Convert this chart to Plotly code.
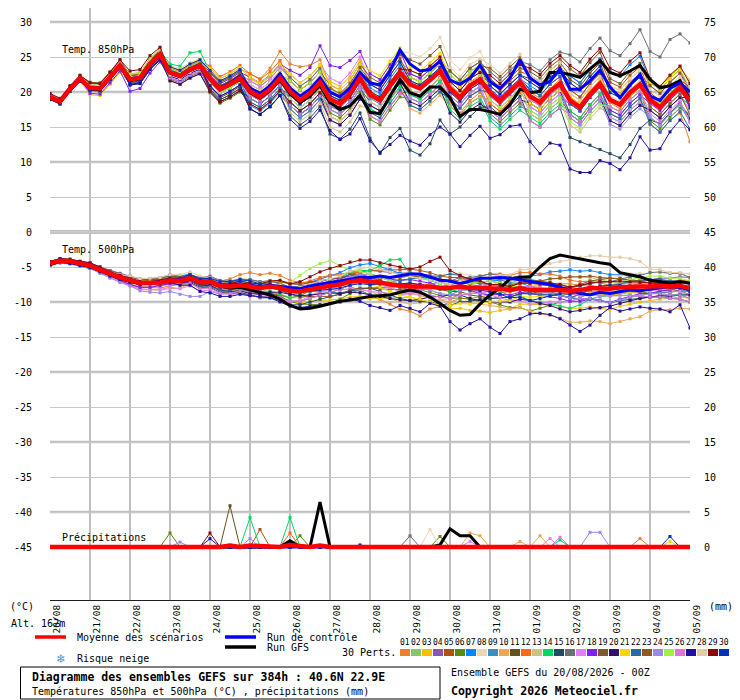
import plotly.graph_objects as go

# time axis: GEFS 00Z run, 6-hourly steps out to 384h
hours = list(range(0, 385, 6))
day_ticks = list(range(0, 385, 24))
date_labels = ["20/08", "21/08", "22/08", "23/08", "24/08", "25/08", "26/08", "27/08", "28/08",
               "29/08", "30/08", "31/08", "01/09", "02/09", "03/09", "04/09", "05/09"]
left_ticks = list(range(-45, 31, 5))
right_ticks = list(range(0, 76, 5))

member_colors = ["#e8822f", "#86c66c", "#f0c000", "#8b56b0", "#b0520c", "#5a8a10", "#0a84ff",
                 "#e8d7b0", "#3a8ec0", "#e8a858", "#64521c", "#f46a20", "#d2c080", "#00d860",
                 "#244a60", "#687078", "#e080f8", "#8020f0", "#7c5a2c", "#30106c", "#f0d800",
                 "#2c68a0", "#905820", "#9c88e8", "#a0f040", "#d878d8", "#20109c", "#e0cca8",
                 "#880808", "#0030c0"]

# ---- temperature 850 hPa (deg C)
t850_mean = [19.3, 18.6, 20.4, 21.9, 20.6, 20.5, 22.1, 23.8, 21.8, 22.0, 24.0, 25.4, 22.8, 22.3, 23.2, 23.8,
             21.9, 20.4, 21.1, 22.0, 20.1, 19.3, 20.4, 22.0, 20.1, 18.8, 19.8, 21.4, 19.0, 18.3, 19.7, 22.0,
             19.6, 18.8, 20.9, 22.8, 21.1, 20.5, 21.7, 23.0, 20.5, 19.2, 20.9, 21.8, 19.9, 18.7, 20.1, 21.4,
             19.4, 18.5, 20.1, 21.2, 18.8, 17.8, 19.7, 21.2, 18.9, 18.2, 19.9, 21.1, 18.9, 17.8, 19.4, 20.7,
             18.7]
t850_control = [19.4, 18.6, 20.5, 22.0, 20.6, 20.6, 22.2, 23.9, 21.9, 22.1, 24.1, 25.5, 22.8, 22.4, 23.3, 23.9,
                22.0, 20.6, 21.3, 22.3, 20.6, 19.8, 20.9, 22.6, 20.6, 19.4, 20.4, 22.0, 20.0, 19.3, 20.6, 22.8,
                21.3, 21.0, 23.0, 26.0, 24.0, 23.0, 23.2, 24.4, 21.7, 21.1, 22.0, 23.8, 21.5, 20.5, 22.0, 24.6,
                22.0, 21.0, 21.5, 23.3, 20.4, 20.4, 21.6, 23.1, 20.7, 19.2, 21.0, 22.5, 19.4, 18.8, 20.5, 21.3,
                20.0]
t850_gfs = [19.2, 18.5, 20.3, 21.8, 20.5, 20.4, 22.0, 23.7, 21.7, 21.9, 23.9, 25.3, 22.7, 22.2, 23.1, 23.7,
            21.8, 20.3, 21.0, 21.8, 19.9, 19.1, 20.2, 21.7, 19.8, 18.5, 19.4, 20.9, 18.5, 17.5, 18.0, 19.5,
            17.1, 16.9, 19.4, 21.8, 19.9, 19.4, 20.7, 20.7, 19.2, 16.5, 17.5, 17.5, 17.2, 16.8, 18.2, 20.4,
            19.9, 20.1, 22.8, 22.8, 22.5, 22.1, 23.3, 24.5, 22.8, 22.3, 23.0, 23.8, 21.8, 20.6, 20.9, 21.6,
            18.9]
t850_members = [
    [19.5, 18.9, 20.5, 22.2, 20.8, 20.9, 22.3, 24.2, 21.5, 21.9, 23.7, 25.3, 23.2, 22.9, 23.8, 24.5, 22.8, 21.5, 22.3, 23.3,
     22.6, 21.9, 23.4, 25.8, 24.0, 23.6, 23.8, 24.6, 20.8, 19.6, 21.0, 23.4, 20.0, 19.2, 21.5, 23.2, 20.2, 19.4, 20.6, 22.1,
     18.6, 17.0, 18.8, 19.9, 18.3, 17.3, 18.7, 20.0, 20.0, 19.1, 20.5, 21.8, 20.4, 19.2, 21.3, 22.6, 18.5, 17.6, 19.3, 20.7,
     15.5, 14.2, 16.0, 17.0, 12.9],
    [19.2, 18.5, 20.5, 21.8, 20.4, 20.3, 21.9, 23.6, 22.1, 22.3, 24.3, 25.7, 22.3, 21.8, 22.7, 23.3, 20.9, 19.4, 20.1, 21.0,
     19.6, 18.8, 19.9, 21.5, 20.6, 19.3, 20.3, 21.9, 20.0, 19.3, 20.7, 23.0, 18.1, 17.3, 19.4, 21.3, 18.1, 17.5, 18.7, 20.0,
     18.0, 16.7, 18.4, 19.3, 18.9, 17.7, 19.1, 20.4, 19.6, 18.3, 20.3, 21.0, 16.8, 15.8, 17.7, 19.2, 15.9, 15.2, 16.9, 18.1,
     17.4, 16.3, 17.9, 19.2, 17.7],
    [19.0, 18.3, 20.1, 21.6, 19.6, 19.5, 21.1, 22.8, 21.3, 21.5, 23.5, 24.9, 23.6, 23.1, 24.0, 24.6, 23.4, 21.9, 22.6, 23.5,
     21.9, 21.1, 22.2, 23.8, 22.1, 20.8, 21.8, 23.4, 21.5, 20.8, 22.2, 24.5, 21.1, 20.3, 22.4, 24.3, 23.1, 22.5, 23.7, 25.0,
     21.0, 19.7, 21.4, 22.3, 20.9, 19.7, 21.1, 22.4, 21.4, 20.5, 22.1, 23.2, 21.3, 20.3, 22.2, 23.7, 20.9, 20.2, 21.9, 23.1,
     21.7, 20.6, 22.2, 23.5, 21.7],
    [19.4, 18.7, 20.5, 22.0, 20.8, 20.7, 22.3, 24.0, 22.3, 22.5, 24.5, 25.9, 22.0, 21.5, 22.4, 23.0, 20.4, 18.9, 19.6, 20.5,
     19.1, 18.3, 19.4, 21.0, 17.6, 16.3, 17.3, 18.9, 16.0, 15.3, 16.7, 19.0, 18.1, 17.3, 19.4, 21.3, 21.6, 21.0, 22.2, 23.5,
     21.5, 20.2, 21.9, 22.8, 19.4, 18.2, 19.6, 20.9, 17.9, 17.0, 18.6, 19.7, 16.3, 15.3, 17.2, 18.7, 17.9, 17.2, 18.9, 20.1,
     18.9, 17.8, 19.4, 20.7, 19.7],
    [19.6, 18.9, 20.7, 22.2, 21.1, 21.0, 22.6, 24.3, 21.8, 22.0, 24.0, 25.4, 21.8, 21.3, 22.2, 22.8, 22.4, 20.9, 21.6, 22.5,
     21.1, 20.3, 21.4, 23.0, 18.6, 17.3, 18.3, 19.9, 16.5, 15.8, 17.2, 19.5, 16.6, 15.8, 17.9, 19.8, 20.1, 19.5, 20.7, 22.0,
     21.0, 19.7, 21.4, 22.3, 21.4, 20.2, 21.6, 22.9, 22.4, 21.5, 23.1, 24.2, 22.3, 21.3, 23.2, 24.7, 21.4, 20.7, 22.4, 23.6,
     19.9, 18.8, 20.4, 21.7, 20.7],
    [19.1, 18.4, 20.2, 21.7, 20.6, 20.5, 22.1, 23.8, 21.3, 21.5, 23.5, 24.9, 21.6, 21.1, 22.0, 22.6, 19.9, 18.4, 19.1, 20.0,
     18.6, 17.8, 18.9, 20.5, 19.1, 17.8, 18.8, 20.4, 17.0, 16.3, 17.7, 20.0, 16.1, 15.3, 17.4, 19.3, 19.1, 18.5, 19.7, 21.0,
     19.0, 17.7, 19.4, 20.3, 16.9, 15.7, 17.1, 18.4, 16.9, 16.0, 17.6, 18.7, 17.3, 16.3, 18.2, 19.7, 16.9, 16.2, 17.9, 19.1,
     15.9, 14.8, 16.4, 17.7, 16.7],
    [19.5, 18.8, 20.6, 22.1, 20.3, 20.2, 21.8, 23.5, 21.0, 21.2, 23.2, 24.6, 22.8, 22.3, 23.2, 23.8, 20.9, 19.4, 20.1, 21.0,
     18.1, 17.3, 18.4, 20.0, 18.6, 17.3, 18.3, 19.9, 19.5, 18.8, 20.2, 22.5, 20.6, 19.8, 21.9, 23.8, 21.1, 20.5, 21.7, 23.0,
     19.5, 18.2, 19.9, 20.8, 20.4, 19.2, 20.6, 21.9, 20.9, 20.0, 21.6, 22.7, 22.3, 21.3, 23.2, 24.7, 22.9, 22.2, 23.9, 25.1,
     21.4, 20.3, 21.9, 23.2, 20.2],
    [19.4, 18.7, 20.3, 21.9, 20.8, 20.7, 22.3, 24.0, 22.4, 22.6, 24.6, 26.0, 23.8, 23.3, 24.2, 24.8, 23.4, 21.9, 22.6, 23.5,
     22.1, 21.3, 22.4, 24.0, 21.1, 19.8, 20.8, 22.4, 20.5, 19.8, 21.2, 23.5, 22.6, 21.8, 23.9, 25.8, 25.6, 25.0, 26.2, 27.8,
     24.5, 23.2, 24.9, 25.8, 22.9, 21.7, 23.1, 24.4, 21.4, 20.5, 22.1, 23.2, 19.8, 18.8, 20.7, 22.2, 20.9, 20.2, 21.9, 23.1,
     21.9, 20.8, 22.4, 23.7, 21.2],
    [19.2, 18.5, 20.3, 21.8, 20.2, 20.1, 21.7, 23.4, 21.6, 21.8, 23.8, 25.2, 23.2, 22.7, 23.6, 24.2, 21.4, 19.9, 20.6, 21.5,
     18.3, 17.5, 18.6, 20.2, 17.6, 16.3, 17.3, 18.9, 18.0, 17.3, 18.7, 21.0, 19.1, 18.3, 20.4, 22.3, 19.6, 19.0, 20.2, 21.5,
     18.0, 16.7, 18.4, 19.3, 16.4, 15.2, 16.6, 17.9, 17.4, 16.5, 18.1, 19.2, 18.3, 17.3, 19.2, 20.7, 17.4, 16.7, 18.4, 19.6,
     16.4, 15.3, 16.9, 18.2, 15.7],
    [19.7, 19.0, 20.8, 22.3, 21.0, 20.9, 22.5, 24.2, 22.6, 22.8, 24.8, 26.2, 22.6, 22.1, 23.0, 23.6, 22.7, 21.2, 21.9, 22.8,
     19.6, 18.8, 19.9, 21.5, 19.1, 17.8, 18.8, 20.4, 16.5, 15.8, 17.2, 19.5, 17.6, 16.8, 18.9, 20.8, 17.6, 17.0, 18.2, 19.5,
     18.0, 16.7, 18.4, 19.3, 18.9, 17.7, 19.1, 20.4, 18.9, 18.0, 19.6, 20.7, 19.8, 18.8, 20.7, 22.2, 18.9, 18.2, 19.9, 21.1,
     17.9, 16.8, 18.4, 19.7, 17.2],
    [19.5, 18.8, 20.6, 22.1, 21.2, 21.1, 22.7, 24.4, 22.0, 22.2, 24.2, 25.6, 22.3, 21.8, 22.7, 23.3, 20.7, 19.2, 19.9, 20.8,
     17.6, 16.8, 17.9, 19.5, 18.1, 16.8, 17.8, 19.4, 17.5, 16.8, 18.2, 20.5, 18.6, 17.8, 19.9, 21.8, 21.6, 21.0, 22.2, 23.5,
     22.0, 20.7, 22.4, 23.3, 20.9, 19.7, 21.1, 22.4, 21.9, 21.0, 22.6, 23.7, 21.8, 20.8, 22.7, 24.2, 20.4, 19.7, 21.4, 22.6,
     19.4, 18.3, 19.9, 21.2, 18.7],
    [19.0, 18.3, 20.1, 21.6, 20.6, 20.5, 22.1, 23.8, 22.2, 22.4, 24.4, 25.8, 23.4, 22.9, 23.8, 24.4, 23.7, 22.2, 22.9, 23.8,
     22.6, 21.8, 22.9, 24.5, 21.6, 20.3, 21.3, 22.9, 19.5, 18.8, 20.2, 22.5, 21.1, 20.3, 22.4, 24.3, 22.1, 21.5, 22.7, 24.0,
     20.0, 18.7, 20.4, 21.3, 18.4, 17.2, 18.6, 19.9, 18.4, 17.5, 19.1, 20.2, 19.3, 18.3, 20.2, 21.7, 20.4, 19.7, 21.4, 22.6,
     20.9, 19.8, 21.4, 22.7, 19.7],
    [19.4, 18.7, 20.5, 22.0, 20.1, 20.0, 21.6, 23.3, 21.8, 22.0, 24.0, 25.4, 23.1, 22.6, 23.5, 24.1, 21.9, 20.4, 21.1, 22.0,
     19.1, 18.3, 19.4, 21.0, 17.1, 15.8, 16.8, 18.4, 15.0, 14.3, 15.7, 18.0, 17.6, 16.8, 18.9, 20.8, 20.1, 19.5, 20.7, 22.0,
     21.0, 19.7, 21.4, 22.3, 18.9, 17.7, 19.1, 20.4, 16.9, 16.0, 17.6, 18.7, 15.3, 14.3, 16.2, 17.7, 16.9, 16.2, 17.9, 19.1,
     17.9, 16.8, 18.4, 19.7, 17.2],
    [19.3, 18.7, 20.5, 22.0, 21.1, 21.0, 22.6, 24.3, 22.3, 22.5, 24.5, 25.9, 24.0, 23.7, 25.6, 25.8, 22.9, 21.4, 22.1, 23.0,
     20.1, 19.3, 20.4, 22.0, 19.1, 17.8, 18.8, 20.4, 17.5, 16.8, 18.2, 20.5, 17.6, 16.8, 18.9, 20.8, 19.6, 19.0, 20.2, 21.5,
     17.5, 16.2, 17.9, 18.8, 15.9, 14.7, 16.1, 17.4, 16.4, 15.5, 17.1, 18.2, 17.3, 16.3, 18.2, 19.7, 16.4, 15.7, 17.4, 18.6,
     17.4, 16.3, 17.9, 19.2, 18.2],
    [19.1, 18.4, 20.2, 21.7, 20.6, 20.5, 22.1, 23.8, 21.4, 21.6, 23.6, 25.0, 22.5, 22.0, 22.9, 23.5, 20.4, 18.9, 19.6, 20.5,
     17.6, 16.8, 17.9, 19.5, 16.6, 15.3, 16.3, 17.9, 14.0, 13.3, 14.7, 17.0, 13.4, 11.2, 13.5, 14.8, 11.7, 11.0, 12.6, 16.0,
     14.0, 15.0, 16.5, 17.8, 17.9, 16.7, 18.1, 19.4, 15.9, 15.0, 16.6, 17.7, 13.5, 12.9, 12.4, 11.8, 11.2, 10.6, 12.5, 14.8,
     16.0, 15.5, 17.0, 18.5, 16.2],
    [19.6, 18.9, 20.7, 22.2, 20.8, 20.7, 22.3, 24.0, 21.8, 22.0, 24.0, 25.4, 23.3, 22.8, 23.7, 24.3, 22.4, 20.9, 21.6, 22.5,
     21.6, 20.8, 21.9, 23.5, 22.1, 20.8, 21.8, 23.4, 20.0, 19.3, 20.7, 23.0, 19.6, 18.8, 20.9, 22.8, 22.6, 22.0, 23.2, 24.5,
     23.0, 21.7, 23.4, 24.3, 22.9, 21.7, 23.1, 24.4, 23.9, 23.0, 24.6, 25.7, 25.3, 24.3, 26.2, 27.7, 25.9, 25.2, 26.9, 28.9,
     25.8, 25.0, 27.5, 28.3, 27.0],
    [19.2, 18.5, 20.3, 21.8, 20.8, 20.7, 22.3, 24.0, 22.0, 22.2, 24.2, 25.6, 22.8, 22.3, 23.2, 23.8, 22.4, 20.9, 21.6, 22.5,
     21.6, 20.8, 21.9, 23.5, 22.6, 21.3, 22.3, 23.9, 22.0, 21.3, 22.7, 25.0, 21.1, 20.3, 22.4, 24.3, 21.1, 20.5, 21.7, 23.0,
     19.0, 17.7, 19.4, 20.3, 17.4, 16.2, 17.6, 18.9, 17.9, 17.0, 18.6, 19.7, 18.3, 17.3, 19.2, 20.7, 16.4, 15.7, 17.4, 18.6,
     17.4, 16.3, 17.9, 19.2, 17.7],
    [19.3, 18.6, 20.4, 21.9, 19.8, 19.7, 21.3, 23.0, 20.1, 20.5, 22.7, 24.3, 22.3, 21.8, 22.7, 23.3, 22.7, 21.2, 21.9, 22.8,
     22.1, 21.3, 22.4, 24.0, 23.1, 22.4, 23.5, 26.6, 23.8, 23.5, 24.5, 25.8, 22.6, 21.8, 23.9, 25.8, 22.6, 22.0, 23.2, 24.5,
     20.5, 19.2, 20.9, 21.8, 20.4, 19.2, 20.6, 21.9, 20.4, 19.5, 21.1, 22.2, 18.3, 17.3, 19.2, 20.7, 17.4, 16.7, 18.4, 19.6,
     18.4, 17.3, 18.9, 20.2, 18.2],
    [19.7, 19.0, 20.8, 22.3, 21.4, 21.3, 22.9, 24.6, 22.4, 22.6, 24.6, 26.0, 23.1, 22.6, 23.5, 24.1, 22.9, 21.4, 22.1, 23.0,
     20.6, 19.8, 20.9, 22.5, 21.6, 20.3, 21.3, 22.9, 21.0, 20.3, 21.7, 24.0, 22.1, 21.3, 23.4, 25.3, 24.6, 24.0, 25.2, 26.5,
     23.0, 21.7, 23.4, 24.3, 21.9, 20.7, 22.1, 23.4, 22.9, 22.0, 23.6, 24.7, 23.3, 22.3, 24.2, 25.7, 21.9, 21.2, 22.9, 24.1,
     20.9, 19.8, 21.4, 22.7, 20.2],
    [19.0, 18.3, 20.1, 21.6, 20.3, 20.2, 21.8, 23.5, 21.0, 21.2, 23.2, 24.6, 21.6, 21.1, 22.0, 22.6, 20.1, 18.6, 19.3, 20.2,
     19.1, 18.3, 19.4, 21.0, 18.1, 16.8, 17.8, 19.4, 16.0, 15.3, 16.7, 19.0, 18.1, 17.3, 19.4, 21.3, 18.6, 18.0, 19.2, 20.5,
     17.0, 15.7, 17.4, 18.3, 17.4, 16.2, 17.6, 18.9, 18.4, 17.5, 19.1, 20.2, 16.8, 15.8, 17.7, 19.2, 15.9, 15.2, 16.9, 18.1,
     17.4, 16.3, 17.9, 19.2, 19.2],
    [19.5, 18.8, 20.6, 22.1, 20.6, 20.5, 22.1, 23.8, 22.1, 22.3, 24.3, 25.7, 23.6, 23.1, 24.0, 24.6, 23.4, 21.9, 22.6, 23.5,
     22.1, 21.3, 22.4, 24.0, 22.6, 21.3, 22.3, 23.9, 21.0, 20.3, 21.7, 24.0, 23.1, 22.3, 24.4, 26.3, 23.6, 23.0, 24.2, 25.5,
     22.0, 20.7, 22.4, 23.3, 19.9, 18.7, 20.1, 21.4, 18.4, 17.5, 19.1, 20.2, 19.3, 18.3, 20.2, 21.7, 20.4, 19.7, 21.4, 22.6,
     21.4, 20.3, 21.9, 23.2, 20.7],
    [19.1, 18.4, 20.2, 21.7, 20.2, 20.1, 21.7, 23.4, 21.2, 21.4, 23.4, 24.8, 23.1, 22.6, 23.5, 24.1, 21.4, 19.9, 20.6, 21.5,
     18.6, 17.8, 18.9, 20.5, 19.6, 18.3, 19.3, 20.9, 18.0, 17.3, 18.7, 21.0, 17.1, 16.3, 18.4, 20.3, 18.1, 17.5, 18.7, 20.0,
     19.0, 17.7, 19.4, 20.3, 19.9, 18.7, 20.1, 21.4, 20.4, 19.5, 21.1, 22.2, 18.3, 17.3, 19.2, 20.7, 16.9, 16.2, 17.9, 19.1,
     15.4, 14.3, 15.9, 17.2, 14.7],
    [19.4, 18.7, 20.5, 22.0, 20.9, 20.8, 22.4, 24.1, 22.3, 22.5, 24.5, 25.9, 22.8, 22.3, 23.2, 23.8, 22.4, 20.9, 21.6, 22.5,
     19.6, 18.8, 19.9, 21.5, 20.1, 18.8, 19.8, 21.4, 20.5, 19.8, 21.2, 23.5, 21.6, 20.8, 22.9, 24.8, 22.1, 21.5, 22.7, 24.0,
     22.5, 21.2, 22.9, 23.8, 23.4, 22.2, 23.6, 24.9, 21.9, 21.0, 22.6, 23.7, 20.3, 19.3, 21.2, 22.7, 18.9, 18.2, 19.9, 21.1,
     17.9, 16.8, 18.4, 19.7, 16.7],
    [19.3, 18.5, 20.3, 21.8, 20.4, 20.3, 21.9, 23.6, 21.5, 21.7, 23.7, 25.1, 22.0, 21.5, 22.4, 23.0, 21.4, 19.9, 20.6, 21.5,
     19.1, 18.3, 19.4, 21.0, 18.1, 16.8, 17.8, 19.4, 18.0, 17.3, 18.7, 21.0, 19.6, 18.8, 20.9, 22.8, 19.1, 18.5, 19.7, 21.0,
     19.5, 18.2, 19.9, 20.8, 20.9, 19.7, 21.1, 22.4, 18.9, 18.0, 19.6, 20.7, 16.3, 15.3, 17.2, 18.7, 15.4, 14.7, 16.4, 17.6,
     16.4, 15.3, 16.9, 18.2, 16.7],
    [19.5, 18.8, 20.6, 22.1, 21.0, 20.9, 22.5, 24.2, 22.5, 22.7, 24.7, 26.1, 23.3, 22.8, 23.7, 24.3, 21.4, 19.9, 20.6, 21.5,
     20.6, 19.8, 20.9, 22.5, 21.6, 20.3, 21.3, 22.9, 20.0, 19.3, 20.7, 23.0, 19.6, 18.8, 20.9, 22.8, 22.1, 21.5, 22.7, 24.0,
     22.5, 21.2, 22.9, 23.8, 18.9, 17.7, 19.1, 20.4, 17.4, 16.5, 18.1, 19.2, 15.8, 14.8, 16.7, 18.2, 17.9, 17.2, 18.9, 20.1,
     19.4, 18.3, 19.9, 21.2, 20.2],
    [19.1, 18.4, 20.2, 21.7, 20.5, 20.4, 22.0, 23.7, 21.8, 22.0, 24.0, 25.4, 22.1, 21.6, 22.5, 23.1, 20.9, 19.4, 20.1, 21.0,
     19.6, 18.8, 19.9, 21.5, 20.6, 19.3, 20.3, 21.9, 17.5, 16.8, 18.2, 20.5, 16.6, 15.8, 17.9, 19.8, 19.1, 18.5, 19.7, 21.0,
     19.5, 18.2, 19.9, 20.8, 17.4, 16.2, 17.6, 18.9, 15.9, 15.0, 16.6, 17.7, 16.8, 15.8, 17.7, 19.2, 17.9, 17.2, 18.9, 20.1,
     16.9, 15.8, 17.4, 18.7, 15.7],
    [19.3, 18.6, 20.4, 21.9, 20.3, 20.2, 21.8, 23.5, 21.1, 21.3, 23.3, 24.7, 22.3, 21.8, 22.7, 23.3, 20.9, 19.4, 20.1, 21.0,
     17.6, 16.8, 17.9, 19.5, 16.1, 14.8, 15.8, 17.4, 14.5, 13.2, 14.0, 16.2, 13.0, 11.4, 12.5, 13.8, 13.0, 12.4, 13.9, 15.0,
     14.0, 12.2, 13.8, 15.1, 13.4, 13.9, 15.1, 15.3, 12.9, 11.2, 12.7, 12.4, 9.0, 8.5, 8.5, 10.2, 9.8, 8.9, 10.6, 13.6,
     11.7, 11.9, 14.3, 16.0, 14.6],
    [19.6, 18.9, 20.7, 22.2, 21.1, 21.0, 22.6, 24.3, 22.1, 22.3, 24.3, 25.7, 22.4, 21.9, 22.8, 23.4, 21.9, 20.4, 21.1, 22.0,
     21.1, 20.3, 21.4, 23.0, 19.1, 17.8, 18.8, 20.4, 16.5, 15.8, 17.2, 19.5, 18.6, 17.8, 19.9, 21.8, 21.6, 21.0, 22.2, 23.5,
     23.5, 22.2, 23.9, 24.8, 23.9, 22.7, 24.1, 25.4, 22.4, 21.5, 23.1, 24.2, 19.8, 18.8, 20.7, 22.2, 19.4, 18.7, 20.4, 21.6,
     20.4, 19.3, 20.9, 22.2, 20.7],
    [19.8, 19.1, 20.9, 22.4, 21.3, 21.2, 22.8, 24.6, 23.0, 23.2, 25.2, 26.4, 23.0, 22.5, 23.4, 24.0, 20.1, 18.6, 19.3, 20.2,
     18.3, 17.5, 18.6, 20.2, 18.6, 17.3, 18.3, 19.9, 18.5, 17.8, 19.2, 21.5, 20.1, 19.3, 21.4, 23.3, 23.1, 22.5, 23.7, 25.0,
     21.5, 20.2, 21.9, 22.8, 22.4, 21.2, 22.6, 23.9, 23.4, 22.5, 24.1, 25.2, 23.8, 22.8, 24.7, 26.2, 23.4, 22.7, 24.4, 25.6,
     21.9, 20.8, 22.4, 23.7, 21.2],
    [18.9, 18.3, 20.1, 21.5, 20.3, 20.2, 21.8, 23.5, 21.5, 21.7, 23.7, 25.1, 23.6, 23.1, 24.0, 24.6, 23.1, 21.6, 22.3, 23.2,
     20.6, 19.8, 20.9, 22.5, 19.6, 18.3, 19.3, 20.9, 19.5, 18.8, 20.2, 22.5, 21.1, 20.3, 22.4, 24.3, 21.6, 21.0, 22.2, 23.5,
     20.0, 18.7, 20.4, 21.3, 20.9, 19.7, 21.1, 22.4, 21.4, 20.5, 22.1, 23.2, 21.3, 20.3, 22.2, 23.7, 19.9, 19.2, 20.9, 22.1,
     18.9, 17.8, 19.4, 20.7, 17.7],
]

# ---- temperature 500 hPa (deg C)
t500_mean = [-4.5, -4.1, -4.2, -4.5, -4.8, -5.4, -6.0, -6.5, -6.9, -7.3, -7.3, -7.2, -6.9, -7.0, -6.6, -7.2,
             -7.1, -7.7, -7.8, -7.6, -7.8, -8.0, -7.8, -8.0, -8.4, -8.5, -8.2, -7.9, -7.7, -7.5, -7.1, -6.9,
             -7.0, -7.2, -7.5, -7.7, -7.8, -7.8, -7.8, -8.0, -8.0, -7.8, -8.0, -8.0, -8.0, -8.1, -8.3, -8.0,
             -8.3, -8.3, -8.2, -8.3, -8.4, -8.3, -8.0, -8.0, -8.1, -7.9, -7.8, -7.8, -7.8, -7.7, -7.8, -7.7,
             -8.0]
t500_control = [-4.4, -4.0, -4.1, -4.4, -4.7, -5.3, -5.9, -6.4, -6.8, -7.2, -7.2, -7.1, -6.8, -6.9, -6.5, -7.1,
                -7.0, -7.6, -7.6, -7.4, -7.6, -7.8, -7.6, -7.8, -8.0, -8.1, -7.7, -7.4, -7.2, -7.0, -6.7, -6.5,
                -6.5, -6.3, -6.5, -6.2, -6.0, -6.0, -6.4, -6.9, -7.0, -7.4, -7.0, -6.6, -6.6, -6.5, -6.6, -6.8,
                -7.0, -7.2, -7.5, -7.9, -8.3, -8.8, -9.0, -8.6, -8.8, -8.5, -8.3, -8.4, -8.2, -8.0, -7.8, -7.9,
                -8.2]
t500_gfs = [-4.6, -4.2, -4.3, -4.6, -4.9, -5.5, -6.1, -6.6, -7.0, -7.4, -7.3, -7.1, -6.8, -7.0, -6.7, -7.3,
            -7.2, -7.8, -8.0, -7.9, -8.3, -8.6, -9.0, -9.6, -10.5, -11.0, -10.9, -10.6, -10.2, -9.9, -9.7, -9.4,
            -9.2, -9.1, -9.0, -8.6, -8.3, -8.6, -9.3, -10.2, -11.2, -11.9, -11.8, -10.3, -9.0, -8.0, -6.7, -6.5,
            -6.4, -5.0, -3.8, -3.3, -3.6, -3.9, -4.1, -4.4, -4.6, -5.8, -6.1, -6.4, -6.9, -7.1, -7.3, -7.1,
            -7.3]
t500_members = [
    [-4.4, -4.0, -4.1, -4.3, -4.6, -5.3, -6.1, -6.8, -7.4, -7.9, -7.9, -8.0, -7.7, -7.5, -6.8, -7.1, -6.8, -7.0, -6.7, -6.1,
     -5.8, -6.1, -5.9, -6.2, -6.9, -7.2, -7.2, -7.2, -7.2, -7.6, -7.8, -8.3, -9.0, -9.6, -10.3, -11.0, -11.3, -12.0, -11.0, -10.6,
     -10.0, -9.5, -9.5, -9.3, -9.0, -8.7, -8.5, -7.8, -7.8, -7.7, -7.4, -7.4, -7.4, -7.6, -7.6, -7.9, -8.6, -8.5, -8.5, -8.7,
     -8.8, -8.8, -9.0, -9.0, -9.5],
    [-4.7, -4.3, -4.5, -4.8, -5.1, -5.6, -6.1, -6.4, -6.6, -7.0, -6.9, -6.8, -6.4, -6.7, -6.5, -7.3, -7.6, -8.3, -8.5, -8.3,
     -8.8, -8.6, -8.1, -7.9, -7.9, -7.7, -7.2, -6.7, -6.2, -6.1, -5.7, -5.6, -6.0, -6.4, -7.0, -7.5, -7.8, -8.0, -8.3, -8.8,
     -9.0, -8.4, -8.2, -7.9, -7.5, -7.4, -7.3, -6.8, -6.8, -7.1, -7.2, -7.6, -7.9, -8.1, -8.0, -8.3, -8.6, -8.3, -8.1, -7.9,
     -7.8, -7.6, -7.5, -7.3, -7.5],
    [-4.3, -4.0, -4.2, -4.5, -4.8, -5.5, -6.2, -6.7, -7.2, -7.7, -7.8, -7.7, -7.4, -7.6, -7.4, -8.1, -8.1, -8.6, -8.6, -8.3,
     -8.3, -8.7, -8.8, -9.2, -9.9, -10.1, -9.9, -9.8, -9.7, -9.6, -9.3, -9.2, -9.5, -9.5, -9.5, -9.4, -9.3, -9.7, -10.0, -10.6,
     -11.0, -10.9, -11.2, -11.3, -11.5, -11.2, -11.0, -10.3, -10.3, -10.4, -10.4, -10.6, -10.9, -10.9, -10.7, -10.9, -11.1, -10.6, -10.3, -10.0,
     -9.8, -9.6, -9.5, -9.3, -9.5],
    [-4.5, -4.0, -4.0, -4.2, -4.4, -5.0, -5.5, -5.9, -6.3, -6.7, -6.8, -6.8, -6.6, -6.6, -6.1, -6.5, -6.3, -6.9, -7.1, -7.0,
     -7.3, -7.7, -7.8, -8.2, -8.9, -8.8, -8.2, -7.6, -7.2, -6.8, -6.1, -5.7, -5.5, -5.6, -5.8, -5.9, -5.8, -6.0, -6.2, -6.7,
     -7.0, -6.9, -7.2, -7.4, -7.5, -7.7, -8.0, -7.9, -8.3, -8.5, -8.6, -9.0, -9.4, -8.9, -8.2, -7.8, -7.6, -7.3, -7.1, -6.9,
     -6.8, -6.6, -6.6, -6.4, -6.5],
    [-4.6, -4.2, -4.3, -4.7, -5.0, -5.7, -6.4, -7.0, -7.5, -7.9, -7.9, -7.6, -7.3, -7.2, -6.6, -7.2, -6.9, -7.8, -8.2, -8.3,
     -8.6, -8.9, -8.7, -9.0, -9.4, -9.1, -8.4, -7.7, -7.2, -6.7, -6.1, -5.6, -5.5, -5.4, -5.4, -5.4, -5.3, -5.5, -5.8, -6.3,
     -6.5, -6.5, -6.9, -7.2, -7.5, -7.5, -7.6, -7.2, -7.3, -7.5, -7.7, -8.1, -8.4, -8.6, -8.5, -8.8, -9.1, -8.8, -8.6, -8.4,
     -8.3, -8.1, -8.2, -7.9, -8.0],
    [-4.2, -3.9, -4.1, -4.4, -4.7, -5.3, -5.9, -6.4, -6.7, -7.2, -7.3, -7.4, -7.2, -7.4, -7.0, -7.7, -7.7, -8.4, -8.7, -8.6,
     -9.0, -9.3, -9.2, -9.5, -9.9, -10.3, -10.4, -10.4, -10.2, -9.6, -8.8, -8.2, -8.0, -7.9, -7.9, -7.8, -7.8, -8.2, -8.6, -9.1,
     -9.5, -9.4, -9.7, -9.9, -10.0, -10.4, -10.8, -10.8, -11.3, -10.9, -10.4, -10.0, -9.9, -9.4, -8.7, -8.4, -8.1, -8.2, -8.3, -8.5,
     -8.8, -8.6, -8.6, -8.4, -8.5],
    [-4.8, -4.3, -4.3, -4.5, -4.9, -5.3, -5.8, -6.1, -6.5, -6.8, -6.7, -6.5, -6.1, -6.3, -6.0, -6.7, -6.6, -7.3, -7.6, -7.5,
     -7.8, -7.9, -7.6, -7.6, -7.9, -7.8, -7.2, -6.7, -6.2, -5.8, -5.1, -4.7, -4.5, -4.9, -5.4, -5.9, -6.3, -6.6, -6.9, -7.3,
     -7.5, -7.2, -7.3, -7.1, -7.0, -6.9, -6.8, -6.3, -6.3, -6.1, -5.7, -5.6, -5.4, -5.6, -5.5, -5.8, -6.1, -6.1, -6.3, -6.5,
     -6.8, -6.8, -7.0, -7.1, -7.5],
    [-4.4, -4.0, -4.0, -4.3, -4.5, -5.1, -5.8, -6.4, -6.9, -7.3, -7.4, -7.3, -7.1, -7.1, -6.6, -7.0, -6.8, -7.3, -7.3, -7.0,
     -7.0, -7.1, -6.9, -7.0, -7.4, -7.6, -7.4, -7.2, -7.2, -7.0, -6.6, -6.4, -6.5, -6.7, -6.9, -7.0, -6.8, -6.6, -6.3, -6.2,
     -6.0, -5.9, -6.2, -6.3, -6.5, -6.7, -7.0, -6.8, -7.3, -7.4, -7.4, -7.3, -7.9, -7.6, -7.0, -6.8, -6.6, -6.3, -6.0, -5.9,
     -5.8, -5.8, -5.9, -5.9, -6.5],
    [-4.5, -4.2, -4.4, -4.8, -5.2, -5.7, -6.3, -6.7, -7.1, -7.4, -7.3, -7.1, -6.7, -6.9, -6.6, -7.2, -7.1, -7.5, -7.4, -6.9,
     -6.8, -7.1, -7.0, -7.4, -7.9, -8.4, -8.5, -8.5, -8.7, -8.7, -8.4, -8.4, -9.0, -8.9, -8.9, -8.9, -8.8, -8.4, -8.0, -7.8,
     -7.5, -7.1, -7.0, -6.8, -6.5, -6.8, -7.3, -7.3, -7.8, -8.2, -8.5, -9.0, -9.4, -9.6, -9.5, -9.7, -10.1, -9.6, -9.3, -9.0,
     -8.8, -8.6, -8.6, -8.3, -8.5],
    [-4.7, -4.3, -4.4, -4.6, -4.8, -5.6, -6.4, -7.1, -7.7, -8.2, -8.3, -8.3, -8.1, -8.0, -7.4, -7.8, -7.6, -8.2, -8.3, -8.1,
     -8.3, -8.6, -8.5, -8.8, -9.4, -9.4, -9.0, -8.6, -8.2, -7.7, -7.0, -6.5, -6.5, -7.1, -7.8, -8.5, -8.8, -9.1, -9.4, -9.8,
     -10.0, -9.9, -10.1, -10.2, -10.5, -10.7, -11.0, -10.8, -11.3, -11.7, -11.9, -12.3, -12.9, -12.9, -12.7, -12.8, -13.1, -12.8, -12.4, -12.1,
     -11.3, -11.1, -11.1, -10.9, -11.0],
    [-4.3, -3.9, -4.0, -4.4, -4.7, -5.3, -5.9, -6.3, -6.6, -6.9, -6.8, -6.6, -6.3, -6.6, -6.4, -7.2, -7.1, -7.8, -8.0, -8.0,
     -8.3, -8.8, -8.8, -9.2, -9.9, -9.9, -9.5, -9.0, -8.7, -8.2, -7.6, -7.2, -7.0, -7.1, -7.3, -7.4, -7.3, -7.5, -7.8, -8.2,
     -8.5, -8.5, -9.0, -9.2, -9.5, -9.4, -9.3, -8.8, -8.8, -8.5, -8.2, -8.1, -7.9, -7.7, -7.3, -7.2, -7.1, -7.2, -7.3, -7.5,
     -7.8, -7.9, -8.2, -8.4, -9.0],
    [-4.6, -4.1, -4.1, -4.3, -4.6, -5.1, -5.6, -6.1, -6.4, -6.8, -6.9, -7.1, -6.7, -6.9, -6.8, -7.6, -7.6, -8.0, -7.8, -7.3,
     -7.3, -7.4, -7.1, -7.2, -7.4, -7.4, -7.0, -6.5, -6.2, -6.1, -5.8, -5.8, -6.5, -6.9, -7.5, -8.0, -8.3, -8.0, -7.8, -7.7,
     -7.5, -6.9, -6.7, -6.3, -6.0, -6.0, -6.2, -5.8, -5.8, -6.0, -6.0, -6.3, -6.9, -7.1, -7.0, -7.3, -7.6, -7.4, -7.3, -7.3,
     -7.3, -7.1, -7.1, -6.9, -7.0],
    [-4.4, -4.1, -4.3, -4.7, -5.0, -5.6, -6.3, -6.8, -7.3, -7.8, -7.8, -7.8, -7.5, -7.5, -7.0, -7.5, -7.4, -7.8, -7.7, -7.2,
     -7.3, -7.6, -7.5, -7.9, -8.4, -8.6, -8.4, -8.3, -8.2, -8.3, -8.1, -8.2, -8.5, -9.0, -9.5, -10.0, -10.3, -10.1, -9.8, -9.7,
     -9.5, -8.9, -8.8, -8.4, -8.0, -7.8, -7.8, -7.3, -7.3, -7.1, -6.7, -6.6, -6.4, -6.5, -6.5, -6.8, -7.1, -7.2, -7.3, -7.5,
     -7.8, -7.8, -8.0, -8.0, -8.5],
    [-4.5, -4.0, -4.1, -4.2, -4.5, -5.2, -5.9, -6.5, -6.9, -7.2, -7.2, -6.9, -6.5, -6.6, -6.3, -6.9, -6.8, -7.6, -8.0, -8.0,
     -8.3, -8.6, -8.5, -8.9, -9.4, -9.1, -8.4, -7.5, -6.9, -6.5, -5.8, -5.5, -5.5, -4.8, -4.0, -3.9, -6.0, -6.4, -6.8, -7.4,
     -8.5, -8.2, -8.3, -8.1, -8.0, -8.5, -9.1, -9.1, -9.8, -10.0, -10.2, -10.6, -10.9, -10.4, -9.6, -9.2, -9.1, -9.0, -9.0, -9.2,
     -9.3, -9.1, -9.1, -8.8, -9.0],
    [-4.7, -4.3, -4.4, -4.7, -5.0, -5.5, -6.0, -6.4, -6.7, -7.2, -7.3, -7.4, -7.2, -7.4, -7.2, -7.9, -7.9, -8.6, -8.8, -8.7,
     -9.0, -9.4, -9.4, -9.8, -10.4, -10.4, -10.0, -9.6, -9.2, -8.9, -8.4, -8.1, -8.0, -8.5, -9.0, -9.5, -9.8, -9.9, -10.0, -10.3,
     -10.5, -10.0, -9.9, -9.6, -9.5, -9.3, -9.3, -8.8, -8.8, -8.9, -8.9, -9.1, -9.4, -9.6, -9.5, -9.8, -10.1, -9.8, -9.6, -9.4,
     -9.3, -9.3, -9.5, -9.6, -10.0],
    [-4.3, -4.0, -4.1, -4.5, -4.7, -5.4, -6.1, -6.5, -7.0, -7.3, -7.2, -6.9, -6.6, -6.6, -6.1, -6.6, -6.5, -7.0, -7.0, -6.7,
     -6.8, -7.1, -7.0, -7.3, -7.9, -7.9, -7.5, -7.0, -6.7, -6.6, -6.3, -6.4, -6.5, -6.9, -7.4, -7.9, -8.3, -7.9, -7.4, -7.2,
     -7.0, -6.5, -6.5, -6.3, -6.0, -6.2, -6.5, -6.3, -6.8, -7.0, -7.2, -7.5, -7.9, -7.7, -7.3, -7.1, -7.1, -6.7, -6.4, -6.2,
     -5.8, -5.7, -5.9, -5.9, -6.5],
    [-4.5, -4.2, -4.4, -4.8, -5.1, -5.8, -6.5, -7.1, -7.6, -8.1, -8.2, -8.2, -7.9, -8.1, -7.7, -8.4, -8.3, -8.8, -8.8, -8.4,
     -8.6, -9.0, -9.0, -9.4, -9.9, -9.8, -9.2, -8.6, -8.2, -8.3, -8.1, -8.2, -8.5, -8.6, -8.8, -8.9, -8.8, -8.4, -8.0, -7.8,
     -7.5, -7.7, -8.3, -8.6, -9.0, -9.3, -9.8, -9.8, -10.3, -10.2, -10.0, -10.0, -9.9, -9.4, -8.7, -8.4, -8.1, -8.0, -8.0, -8.2,
     -8.3, -8.3, -8.5, -8.5, -9.0],
    [-4.6, -4.1, -4.2, -4.5, -4.8, -5.6, -6.3, -6.9, -7.5, -7.9, -7.9, -7.7, -7.4, -7.5, -7.0, -7.5, -7.4, -7.9, -8.0, -7.9,
     -8.3, -8.3, -7.8, -7.6, -7.9, -7.9, -7.5, -7.0, -6.7, -6.6, -6.2, -6.2, -6.5, -6.6, -6.8, -6.9, -6.8, -7.0, -7.3, -7.8,
     -8.0, -7.9, -8.4, -8.8, -9.0, -8.9, -9.0, -8.6, -8.8, -9.0, -9.2, -9.5, -9.9, -9.9, -9.6, -9.8, -10.1, -9.6, -9.2, -8.8,
     -8.8, -8.4, -8.3, -7.9, -8.0],
    [-4.2, -3.8, -3.9, -4.2, -4.5, -5.1, -5.6, -6.1, -6.5, -6.8, -6.7, -6.6, -6.3, -6.4, -6.1, -6.7, -6.6, -7.2, -7.3, -7.2,
     -7.5, -7.9, -7.9, -8.4, -8.9, -9.3, -9.2, -9.2, -9.2, -8.9, -8.3, -8.0, -8.0, -8.1, -8.2, -8.3, -8.3, -8.1, -7.8, -7.8,
     -7.5, -7.2, -7.3, -7.2, -7.0, -7.3, -7.8, -7.8, -8.3, -8.2, -8.0, -8.0, -7.9, -7.5, -7.0, -6.8, -6.6, -6.7, -6.8, -7.0,
     -7.3, -7.3, -7.5, -7.6, -8.0],
    [-4.8, -4.4, -4.5, -4.7, -5.0, -5.5, -6.1, -6.5, -6.9, -7.3, -7.3, -7.3, -7.1, -7.3, -7.0, -7.7, -7.6, -8.3, -8.5, -8.4,
     -8.8, -8.9, -8.6, -8.6, -8.9, -9.1, -9.0, -8.9, -8.7, -8.8, -8.6, -8.7, -9.0, -9.2, -9.5, -9.7, -9.8, -9.6, -9.3, -9.2,
     -9.0, -9.0, -9.5, -9.8, -10.0, -10.0, -10.0, -9.6, -9.8, -10.2, -10.5, -11.0, -11.4, -11.2, -10.9, -10.8, -10.6, -10.2, -9.8, -9.5,
     -9.3, -9.1, -9.2, -9.0, -9.0],
    [-4.4, -4.0, -4.0, -4.3, -4.6, -5.2, -5.8, -6.3, -6.7, -7.1, -7.2, -7.2, -7.0, -7.0, -6.5, -7.0, -6.8, -7.4, -7.5, -7.3,
     -7.5, -7.7, -7.4, -7.6, -7.9, -8.1, -7.9, -7.8, -7.7, -7.6, -7.3, -7.3, -7.5, -7.9, -8.5, -9.0, -9.3, -9.6, -10.0, -10.5,
     -10.5, -10.2, -10.3, -10.1, -10.0, -9.9, -9.8, -9.2, -9.3, -9.2, -9.0, -9.0, -8.9, -9.0, -8.8, -8.9, -9.1, -8.8, -8.6, -8.4,
     -8.3, -8.1, -8.1, -7.8, -8.0],
    [-4.5, -4.1, -4.2, -4.5, -4.9, -5.5, -6.2, -6.7, -7.2, -7.5, -7.4, -7.2, -6.8, -7.1, -6.9, -7.7, -7.8, -8.3, -8.3, -8.0,
     -8.1, -8.2, -7.9, -8.0, -8.4, -8.4, -8.0, -7.6, -7.2, -7.2, -7.0, -7.1, -7.5, -7.3, -7.1, -6.9, -6.8, -6.5, -6.3, -6.3,
     -6.0, -6.2, -6.8, -7.2, -7.5, -7.8, -8.3, -8.2, -8.8, -8.9, -9.0, -9.1, -9.4, -8.9, -8.2, -7.8, -7.6, -7.3, -7.1, -6.9,
     -6.8, -6.8, -7.0, -7.0, -7.5],
    [-4.3, -3.9, -3.9, -4.2, -4.5, -5.0, -5.6, -6.0, -6.4, -6.8, -6.9, -6.8, -6.6, -6.7, -6.2, -6.8, -6.7, -7.3, -7.3, -7.1,
     -7.3, -7.4, -7.1, -7.1, -7.4, -7.5, -7.2, -6.9, -6.7, -6.5, -6.1, -6.0, -6.5, -6.5, -6.6, -6.5, -6.3, -6.4, -6.5, -6.8,
     -7.0, -7.1, -7.5, -7.8, -8.0, -7.9, -7.8, -7.3, -7.3, -7.0, -6.7, -6.6, -6.4, -6.4, -6.3, -6.5, -6.6, -6.6, -6.8, -7.0,
     -7.3, -7.3, -7.6, -7.6, -8.0],
    [-4.7, -4.4, -4.6, -4.9, -5.2, -5.9, -6.6, -7.2, -7.7, -8.4, -8.6, -8.7, -8.5, -8.9, -9.2, -9.2, -8.5, -8.9, -8.8, -8.4,
     -8.3, -8.2, -7.8, -7.7, -7.9, -8.0, -7.7, -7.4, -7.2, -6.9, -6.4, -6.1, -6.0, -6.4, -7.0, -7.5, -7.8, -8.1, -8.3, -8.8,
     -9.0, -8.4, -8.2, -7.8, -7.5, -7.7, -8.1, -8.0, -8.3, -8.6, -8.7, -9.1, -9.4, -9.5, -9.5, -9.8, -10.1, -9.7, -9.3, -9.1,
     -8.8, -8.8, -9.0, -9.0, -9.5],
    [-4.5, -4.0, -4.1, -4.4, -4.7, -5.2, -5.8, -6.3, -6.6, -7.0, -7.1, -7.1, -6.8, -7.0, -6.6, -7.2, -7.1, -7.6, -7.6, -7.2,
     -7.3, -7.3, -7.0, -7.0, -7.2, -6.2, -5.2, -4.5, -4.1, -4.8, -5.5, -5.6, -6.0, -6.4, -7.0, -7.5, -7.8, -7.7, -7.6, -7.7,
     -7.5, -7.2, -7.3, -7.1, -7.0, -7.3, -7.8, -7.8, -8.3, -8.4, -8.4, -8.6, -8.9, -8.6, -8.0, -7.8, -7.6, -7.2, -6.8, -6.6,
     -6.3, -6.3, -6.6, -6.6, -7.0],
    [-4.4, -4.1, -4.2, -4.5, -4.9, -5.5, -6.1, -6.6, -6.9, -7.4, -7.4, -7.4, -7.2, -7.5, -7.3, -8.1, -8.0, -8.7, -8.9, -8.8,
     -9.1, -9.3, -9.2, -9.5, -9.9, -9.9, -9.5, -9.0, -8.7, -8.2, -7.6, -7.2, -7.0, -7.5, -8.0, -8.5, -8.8, -8.9, -9.0, -9.3,
     -9.5, -9.0, -8.9, -8.7, -8.5, -8.3, -8.3, -7.8, -7.8, -8.0, -8.1, -8.5, -8.9, -9.0, -8.9, -9.1, -9.1, -9.0, -9.0, -9.1,
     -9.3, -9.3, -9.5, -9.6, -10.0],
    [-4.5, -4.1, -4.4, -4.3, -4.5, -5.2, -5.8, -6.2, -6.6, -7.1, -7.3, -7.4, -7.2, -7.6, -7.6, -8.5, -8.7, -9.2, -9.2, -8.9,
     -9.1, -9.2, -9.4, -10.0, -10.6, -10.8, -10.6, -10.4, -10.2, -10.0, -9.6, -9.9, -10.5, -10.8, -11.2, -10.5, -10.9, -11.4, -10.2, -10.6,
     -12.8, -14.0, -13.1, -12.4, -13.6, -14.5, -12.8, -12.4, -11.7, -11.6, -11.8, -12.4, -13.3, -14.2, -13.3, -11.9, -10.8, -11.3, -11.0, -10.7,
     -10.9, -11.0, -11.4, -10.4, -13.7],
    [-4.3, -3.9, -4.0, -4.3, -4.6, -5.1, -5.7, -6.1, -6.3, -6.7, -6.6, -6.5, -6.1, -6.1, -5.7, -6.3, -6.5, -7.2, -7.4, -7.3,
     -7.8, -7.9, -7.6, -7.6, -7.9, -7.9, -7.5, -7.0, -6.7, -6.3, -5.6, -5.2, -5.0, -5.3, -5.7, -6.1, -6.3, -6.6, -6.9, -7.3,
     -7.5, -7.0, -6.9, -6.6, -6.5, -6.2, -6.1, -5.4, -5.3, -5.0, -4.5, -4.2, -3.9, -3.6, -3.4, -3.4, -3.6, -3.6, -3.8, -4.2,
     -5.3, -5.4, -5.8, -5.8, -6.0],
    [-4.2, -3.8, -3.9, -4.2, -4.4, -5.0, -5.7, -6.2, -6.7, -7.1, -7.2, -7.2, -6.9, -6.9, -6.4, -6.9, -6.9, -7.4, -7.4, -7.0,
     -7.3, -7.4, -7.0, -6.9, -7.4, -7.1, -6.4, -5.7, -5.2, -4.8, -4.3, -4.0, -4.0, -4.4, -4.7, -5.0, -5.3, -5.0, -4.2, -3.6,
     -5.5, -6.2, -6.8, -7.0, -7.5, -7.5, -7.8, -7.3, -7.3, -7.4, -7.3, -7.5, -7.9, -7.6, -7.3, -7.1, -7.1, -7.0, -7.1, -7.2,
     -7.3, -7.3, -7.5, -7.5, -8.0],
    [-4.6, -4.3, -4.5, -4.8, -5.1, -5.7, -6.3, -6.8, -7.2, -7.5, -7.4, -7.1, -6.6, -6.6, -6.1, -6.7, -6.6, -7.1, -7.1, -6.8,
     -7.0, -7.4, -7.4, -7.9, -8.4, -8.6, -8.4, -8.3, -8.2, -8.0, -7.6, -7.4, -7.5, -7.4, -7.4, -7.4, -7.3, -7.5, -7.8, -8.0,
     -8.0, -7.9, -8.2, -8.4, -8.5, -8.9, -9.4, -9.3, -9.8, -9.5, -9.1, -8.8, -8.9, -8.5, -7.9, -7.7, -7.6, -7.6, -7.7, -7.8,
     -7.8, -7.8, -8.0, -8.0, -8.5],
]

# ---- 6-hourly precipitation (mm), right-hand axis
precip_mean = [0.0] * 12 + [0.1, 0.0, 0.0, 0.0, 0.1, 0.0, 0.2, 0.0, 0.2, 0.1, 0.0, 0.0, 0.3, 0.1, 0.0, 0.2,
               0.0, 0.0, 0.0, 0.0, 0.0, 0.0, 0.0, 0.0, 0.1, 0.0, 0.1, 0.1, 0.1, 0.1, 0.1, 0.0, 0.0, 0.0,
               0.0, 0.1, 0.0, 0.0, 0.1, 0.1, 0.1, 0.0, 0.0, 0.1, 0.0, 0.0, 0.0, 0.0, 0.0, 0.0, 0.0, 0.0, 0.0]
precip_control = [0.0] * 65
precip_gfs = [0.0] * 24 + [0.9, 0.0, 0.0, 6.4] + [0.0] * 11 + [0.3, 2.6, 1.6, 1.6] + [0.0] * 22
# (member number, step index, mm) for every non-zero member value
precip_events = [(6, 12, 2.0), (6, 25, 1.6), (6, 39, 1.5), (24, 13, 0.7), (24, 20, 1.2), (24, 54, 2.1),
                 (24, 55, 2.1), (29, 16, 2.0), (27, 16, 1.2), (11, 18, 5.9), (14, 20, 4.2), (14, 24, 4.2),
                 (14, 51, 1.0), (5, 21, 2.5), (12, 24, 2.0), (16, 36, 1.6), (8, 38, 2.5), (10, 42, 2.0),
                 (10, 43, 1.6), (10, 47, 0.8), (10, 49, 1.6), (17, 42, 0.8), (17, 50, 1.2), (26, 51, 1.4),
                 (1, 59, 1.2), (30, 62, 1.5), (30, 31, 0.3), (21, 62, 0.8)]

for name, group in (("t850", t850_members), ("t500", t500_members)):
    for k, series in enumerate(group):
        assert len(series) == len(hours), f"{name} member {k + 1}: {len(series)}"
for series in (t850_mean, t850_control, t850_gfs, t500_mean, t500_control, t500_gfs,
               precip_mean, precip_gfs):
    assert len(series) == len(hours), len(series)

precip_members = [[0.0] * len(hours) for _ in member_colors]
for member, step, mm in precip_events:
    precip_members[member - 1][step] = mm

FONT = "DejaVu Sans Mono"
fig = go.Figure()


def add_members(members, axis):
    for k, ys in enumerate(members):
        fig.add_trace(go.Scatter(x=hours, y=ys, yaxis=axis, mode="lines+markers",
                                 line=dict(color=member_colors[k], width=1),
                                 marker=dict(color=member_colors[k], size=3, symbol="square"),
                                 hoverinfo="skip"))


def add_runs(gfs, control, mean, axis):
    fig.add_trace(go.Scatter(x=hours, y=gfs, yaxis=axis, mode="lines",
                             line=dict(color="black", width=3), hoverinfo="skip"))
    fig.add_trace(go.Scatter(x=hours, y=control, yaxis=axis, mode="lines",
                             line=dict(color="#0000ff", width=3), hoverinfo="skip"))
    fig.add_trace(go.Scatter(x=hours, y=mean, yaxis=axis, mode="lines",
                             line=dict(color="#ff0000", width=4.5), hoverinfo="skip"))


add_members(t850_members, "y")
add_runs(t850_gfs, t850_control, t850_mean, "y")
add_members(t500_members, "y")
add_runs(t500_gfs, t500_control, t500_mean, "y")
add_members(precip_members, "y2")
add_runs(precip_gfs, precip_control, precip_mean, "y2")

# the page body adds an 8px offset, so the figure is 8px smaller and the plot
# area (page x 50..690, y 8..600) keeps the reference placement
fig.update_layout(
    width=732, height=692,
    margin=dict(l=42, r=50, t=0, b=100),
    paper_bgcolor="white", plot_bgcolor="white",
    showlegend=False,
    font=dict(family=FONT, size=10, color="black"),
    xaxis=dict(range=[0, 384], tickvals=day_ticks, ticktext=date_labels, tickangle=-90,
               ticklabelshift=7, showgrid=True, gridcolor="#c0c0c0", gridwidth=1.5,
               showline=True, linecolor="#202020", linewidth=1, zeroline=False, ticks="",
               tickfont=dict(family=FONT, size=9.5, color="black")),
    yaxis=dict(range=[-52.571, 32.0], tickvals=left_ticks, ticktext=[str(v) for v in left_ticks],
               showgrid=True, gridcolor="#c8c8c8", gridwidth=1, zeroline=False,
               ticks="outside", ticklen=15, tickcolor="rgba(0,0,0,0)",
               tickfont=dict(family=FONT, size=10, color="black")),
    yaxis2=dict(range=[-7.571, 77.0], overlaying="y", side="right", tickvals=right_ticks,
                ticktext=[str(v) for v in right_ticks], showgrid=False, zeroline=False,
                ticks="outside", ticklen=11, tickcolor="rgba(0,0,0,0)",
                tickfont=dict(family=FONT, size=10, color="black")),
)

# heavier grid every 10 degrees, double line at 0
for v in (30, 20, 10, -10, -20, -30, -40):
    fig.add_shape(type="line", xref="paper", yref="y", x0=0, x1=1, y0=v, y1=v,
                  line=dict(color="#c0c0c0", width=2.5), layer="below")
for v in (0.15, -0.15):
    fig.add_shape(type="line", xref="paper", yref="y", x0=0, x1=1, y0=v, y1=v,
                  line=dict(color="#8c8c8c", width=1), layer="below")


def px_x(px):
    return (px - 50) / 640


def px_y(py):
    return (600 - py) / 592


def label(text, x, y, anchor="left", size=10, color="black"):
    fig.add_annotation(text=text, x=px_x(x), y=px_y(y), xref="paper", yref="paper",
                       xanchor=anchor, yanchor="middle", showarrow=False,
                       font=dict(family=FONT, size=size, color=color))


label("Temp. 850hPa", 60, 49)
label("Temp. 500hPa", 60, 249)
label("Précipitations", 60, 537)
label("(°C)", 22, 606, anchor="center")
label("Alt. 162m", 9, 623)
label("(mm)", 707, 606)

# legend block
for x0, x1, y, color in ((35, 66, 637, "#ff0000"), (225, 256, 637, "#0000ff"), (225, 256, 647, "black")):
    fig.add_shape(type="line", xref="paper", yref="paper", x0=px_x(x0), x1=px_x(x1),
                  y0=px_y(y), y1=px_y(y), line=dict(color=color, width=3.5))
label("Moyenne des scénarios", 75, 637)
label("Run de contrôle", 265, 637)
label("Run GFS", 265, 647)
label("❄", 60, 658, anchor="center", size=13, color="#3d9ae8")
label("Risque neige", 75, 659)
label("30 Perts.", 340, 652)
for k, color in enumerate(member_colors):
    fig.add_shape(type="rect", xref="paper", yref="paper", x0=px_x(400 + 11 * k), x1=px_x(410 + 11 * k),
                  y0=px_y(656), y1=px_y(649), fillcolor=color, line=dict(width=0))
    label(f"{k + 1:02d}", 405 + 11 * k, 642, anchor="center", size=8)

fig.add_shape(type="rect", xref="paper", yref="paper", x0=px_x(20.5), x1=px_x(440),
              y0=px_y(699), y1=px_y(667), line=dict(color="black", width=1))
label("<b>Diagramme des ensembles GEFS sur 384h : 40.6N 22.9E</b>", 30, 677, size=11.5)
label("Températures 850hPa et 500hPa (°C) , précipitations (mm)", 30, 691)
label("Ensemble GEFS du 20/08/2026 - 00Z", 449, 672)
label("<b>Copyright 2026 Meteociel.fr</b>", 449, 691, size=11.5)

fig.write_html("out.html")
